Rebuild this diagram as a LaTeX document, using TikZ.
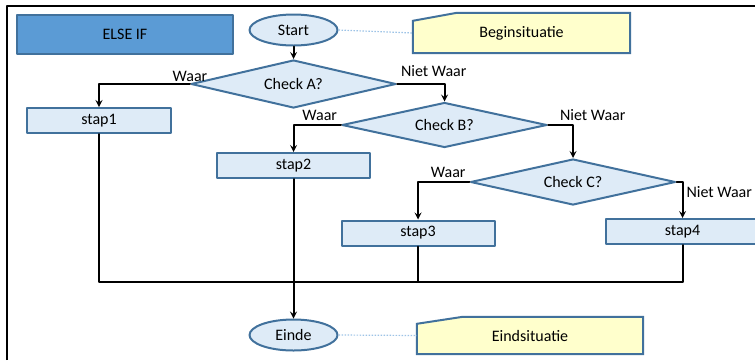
\documentclass[tikz,border=0pt]{standalone}
\usepackage{fontspec}
\setmainfont{Carlito}
\usetikzlibrary{shapes.geometric,backgrounds}
\definecolor{lichtblauw}{HTML}{DEEBF7}
\definecolor{rand}{HTML}{41719C}
\definecolor{blok}{HTML}{5B9BD5}
\definecolor{geel}{HTML}{FFFFCC}
\definecolor{stip}{HTML}{9DC3E6}
\begin{document}
\begin{tikzpicture}[x=1pt, y=-1pt, font=\fontsize{16}{19}\selectfont, line join=round, >=stealth,
vorm/.style={draw=rand, line width=2pt, fill=lichtblauw, inner sep=0pt},
ovaal/.style={vorm, ellipse, minimum width=88pt, minimum height=31pt},
stapbox/.style={vorm, minimum width=153pt, minimum height=25pt},
keuze/.style={vorm, diamond, aspect=4, minimum width=205pt, minimum height=46pt},
notitie/.style={inner sep=0pt, minimum width=#1},
kaart/.style={draw=rand, line width=2pt, fill=geel},
lijn/.style={line width=2pt, line cap=round},
stippel/.style={draw=stip, line width=1.2pt, dash pattern=on 1.5pt off 1.5pt},
tekst/.style={inner sep=3pt}]
\useasboundingbox (0,0) rectangle (755,360);
\draw[line width=2.5pt] (7,360)--(7,6)--(755,6);
% vakken
\node[vorm, fill=blok, minimum width=216pt, minimum height=39pt] (elseif) at (125,34.5) {ELSE IF};
\node[ovaal] (start) at (293.5,30) {Start};
\node[notitie=217pt, minimum height=40pt] (begin) at (521.5,33) {\raisebox{-3pt}{Beginsituatie}};
\node[keuze, minimum height=48pt] (checkA) at (293.5,84) {Check A?};
\node[stapbox, minimum width=144pt] (stap1) at (99,120.5) {stap1};
\node[keuze, minimum height=45pt] (checkB) at (444.5,125) {Check B?};
\node[stapbox] (stap2) at (293.5,165.5) {stap2};
\node[keuze] (checkC) at (573,182) {Check C?};
\node[stapbox] (stap3) at (418,233) {stap3};
\node[stapbox] (stap4) at (682.5,231.5) {stap4};
\node[ovaal] (einde) at (293.5,335) {Einde};
\node[notitie=226pt, minimum height=37pt] (eind) at (530,335.5) {\raisebox{-4pt}{Eindsituatie}};
\begin{scope}[on background layer]
\draw[kaart] (begin.south west)--([yshift=-8pt]begin.north west)--([xshift=44pt]begin.north west)
 --(begin.north east)--(begin.south east)--cycle;
\draw[kaart] (eind.south west)--([yshift=-7pt]eind.north west)--([xshift=46pt]eind.north west)
 --(eind.north east)--(eind.south east)--cycle;
\end{scope}
% verbindingen
\draw[stippel] (start.east)--(begin.west);
\draw[stippel] (einde.east)--(eind.west);
\draw[lijn,->] (start)--(checkA);
\draw[lijn,->] (checkA.west) node[tekst, above, inner sep=1pt]{Waar} -| (stap1.north);
\draw[lijn,->] (checkA.east) node[tekst, above right, yshift=3pt]{Niet Waar} -| (checkB.north);
\draw[lijn,->] (checkB.west) node[tekst, above left]{Waar} -| (stap2.north);
\draw[lijn,->] (checkB.east) node[tekst, above right, xshift=8pt]{Niet Waar} -| (checkC.north);
\draw[lijn,->] (checkC.west) node[tekst, above left]{Waar} -| (stap3.north);
\draw[lijn,->] (checkC.east) -| node[tekst, below right]{Niet Waar} (stap4.north);
\coordinate (samen) at (293.5,282);
\draw[lijn] (stap1.south) |- (samen) (stap3.south) |- (samen) (stap4.south) |- (samen);
\draw[lijn,->] (stap2.south)--(einde.north);
\end{tikzpicture}
\end{document}
